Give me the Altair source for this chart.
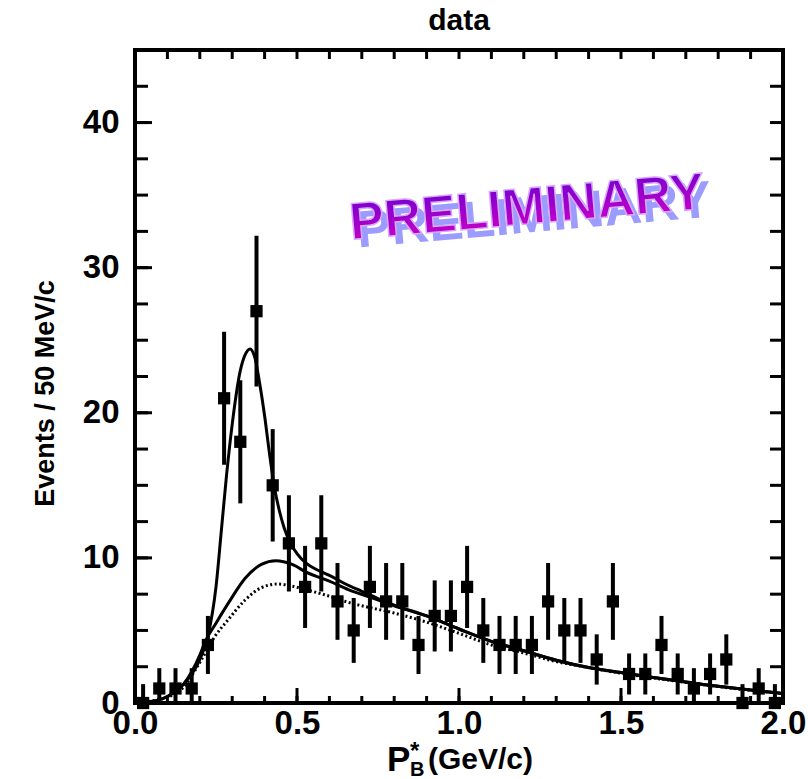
import altair as alt
import pandas as pd
import math

# ---------------- data ----------------
bin_centers = [0.025 + 0.05 * i for i in range(40)]
counts = [0, 1, 1, 1, 4, 21, 18, 27, 15, 11,
          8, 11, 7, 5, 8, 7, 7, 4, 6, 6,
          8, 5, 4, 4, 4, 7, 5, 5, 3, 7,
          2, 2, 4, 2, 1, 2, 3, 0, 1, 0]

# total fit curve (signal + background)
tot_x = [0.0, 0.05, 0.1, 0.15, 0.2, 0.225, 0.25, 0.267, 0.283, 0.3, 0.325, 0.34,
         0.355, 0.37, 0.385, 0.4, 0.415, 0.43, 0.445, 0.46, 0.48, 0.5, 0.53, 0.56,
         0.6, 0.65, 0.7, 0.75, 0.8, 0.9, 1.0, 1.1, 1.2, 1.3, 1.4, 1.5, 1.6, 1.7,
         1.8, 1.9, 2.0]
tot_y = [0.0, 0.1, 0.45, 1.3, 3.0, 4.6, 8.0, 12.0, 15.8, 19.2, 22.9, 24.0,
         24.4, 23.8, 22.0, 19.8, 17.2, 14.9, 13.3, 12.1, 11.0, 10.3, 9.6, 9.2,
         8.8, 8.2, 7.7, 7.2, 6.75, 6.0, 5.1, 4.25, 3.6, 2.95, 2.45, 2.1, 1.75, 1.45,
         1.15, 0.9, 0.65]

# background (solid)
bg_x = [0.0, 0.05, 0.1, 0.15, 0.2, 0.216, 0.25, 0.29, 0.34, 0.39, 0.435, 0.485,
        0.53, 0.6, 0.66, 0.725, 0.8, 0.9, 1.0, 1.1, 1.2, 1.3, 1.4, 1.5, 1.6, 1.7,
        1.8, 1.9, 2.0]
bg_y = [0.0, 0.1, 0.45, 1.3, 3.3, 4.2, 5.5, 6.95, 8.6, 9.55, 9.8, 9.55,
        9.0, 8.4, 7.8, 7.3, 6.7, 6.0, 5.1, 4.25, 3.6, 2.95, 2.45, 2.1, 1.75, 1.45,
        1.15, 0.9, 0.65]

# dotted component
dot_x = [0.0, 0.1, 0.15, 0.2, 0.247, 0.288, 0.34, 0.39, 0.44, 0.485, 0.53, 0.6,
         0.664, 0.7, 0.8, 0.91, 1.0, 1.1, 1.2, 1.3, 1.36, 1.5, 1.6, 1.7, 1.8, 1.9, 2.0]
dot_y = [0.0, 0.4, 1.1, 2.8, 4.6, 5.75, 7.1, 7.95, 8.2, 8.05, 7.8, 7.36,
         6.9, 6.7, 6.2, 5.5, 4.8, 4.0, 3.45, 2.85, 2.6, 2.05, 1.72, 1.42, 1.13, 0.88, 0.64]

x_labels = [0.0, 0.5, 1.0, 1.5, 2.0]
y_labels = [0, 10, 20, 30, 40]
x_minor = [i / 10 for i in range(21)]
y_minor = [i * 2.5 for i in range(19)]

# ---------------- tables ----------------
def err_hi(n):
    return n + (math.sqrt(n) if n > 1 else (1.3 if n == 0 else 1.4))

def err_lo(n):
    return max(n - math.sqrt(n), 0)

pts = pd.DataFrame({
    "x": bin_centers,
    "y": counts,
    "lo": [err_lo(n) for n in counts],
    "hi": [err_hi(n) for n in counts],
})
tot = pd.DataFrame({"x": tot_x, "y": tot_y})
bg = pd.DataFrame({"x": bg_x, "y": bg_y})
dot = pd.DataFrame({"x": dot_x, "y": dot_y})
xmaj = pd.DataFrame({"x": [v for v in x_minor if abs(v * 2 - round(v * 2)) < 1e-9]})
xmin = pd.DataFrame({"x": x_minor})
ymaj = pd.DataFrame({"y": y_labels})
ymin = pd.DataFrame({"y": y_minor})

W, H = 648, 653
FONT = "Liberation Sans Narrow, Liberation Sans, Arial, sans-serif"

xs = alt.Scale(domain=[0, 2], nice=False, zero=False)
ys = alt.Scale(domain=[0, 45], nice=False, zero=False)

x_axis = alt.Axis(values=x_labels, format=".1f", ticks=False, domain=False,
                  grid=False, labelFont=FONT, labelFontSize=33,
                  labelFontWeight="bold", labelColor="black", labelPadding=4,
                  labelFlush=False, labelOverlap=False, title=None)
y_axis = alt.Axis(values=y_labels, ticks=False, domain=False, grid=False,
                  labelFont=FONT, labelFontSize=33, labelFontWeight="bold",
                  labelColor="black", labelPadding=16, labelFlush=False,
                  labelOverlap=False,
                  title="Events / 50 MeV/c", titleFont=FONT, titleFontSize=27,
                  titleFontWeight="bold", titleColor="black",
                  titleX=-90, titleY=343, titleAngle=270,
                  titleBaseline="middle", titleAlign="center")

base_x = alt.X("x:Q", scale=xs)
base_y = alt.Y("y:Q", scale=ys)

errbars = alt.Chart(pts).mark_rule(color="black", strokeWidth=4).encode(
    x=alt.X("x:Q", scale=xs, axis=x_axis),
    y=alt.Y("lo:Q", scale=ys, axis=y_axis), y2="hi:Q")
squares = alt.Chart(pts).mark_square(color="black", size=150, opacity=1).encode(
    x=base_x, y=base_y)

tot_line = alt.Chart(tot).mark_line(color="black", strokeWidth=3,
                                    interpolate="monotone").encode(x=base_x, y=base_y)
bg_line = alt.Chart(bg).mark_line(color="black", strokeWidth=3,
                                  interpolate="monotone").encode(x=base_x, y=base_y)
dot_line = alt.Chart(dot).mark_line(color="black", strokeWidth=3, strokeDash=[2, 2.5],
                                    interpolate="monotone").encode(x=base_x, y=base_y)

one = pd.DataFrame({"k": [0]})

# frame
frame = alt.Chart(one).mark_rect(fill=None, stroke="black", strokeWidth=4).encode(
    x=alt.value(0), x2=alt.value(W), y=alt.value(0), y2=alt.value(H))

# inward ticks
t_bot_maj = alt.Chart(xmaj).mark_rule(color="black", strokeWidth=3).encode(
    x=base_x, y=alt.value(H), y2=alt.value(H - 15))
t_bot_min = alt.Chart(xmin).mark_rule(color="black", strokeWidth=3).encode(
    x=base_x, y=alt.value(H), y2=alt.value(H - 7))
t_top = alt.Chart(xmin).mark_rule(color="black", strokeWidth=3).encode(
    x=base_x, y=alt.value(0), y2=alt.value(9))
t_left = alt.Chart(ymin).mark_rule(color="black", strokeWidth=3).encode(
    y=base_y, x=alt.value(0), x2=alt.value(13))
t_left_maj = alt.Chart(ymaj).mark_rule(color="black", strokeWidth=3).encode(
    y=base_y, x=alt.value(0), x2=alt.value(17))
t_right = alt.Chart(ymin).mark_rule(color="black", strokeWidth=3).encode(
    y=base_y, x=alt.value(W), x2=alt.value(W - 13))

# x-axis title with sub/superscript
xt_P = alt.Chart(one).mark_text(text="P", font=FONT, fontSize=35, fontWeight="bold",
                                align="left", baseline="alphabetic", color="black").encode(
    x=alt.value(252), y=alt.value(721))
xt_star = alt.Chart(one).mark_text(text="*", font=FONT, fontSize=24, fontWeight="bold",
                                   align="left", baseline="alphabetic", color="black").encode(
    x=alt.value(275), y=alt.value(709))
xt_B = alt.Chart(one).mark_text(text="B", font=FONT, fontSize=20, fontWeight="bold",
                                align="left", baseline="alphabetic", color="black").encode(
    x=alt.value(275), y=alt.value(726))
xt_rest = alt.Chart(one).mark_text(text="(GeV/c)", font=FONT, fontSize=30, fontWeight="bold",
                                   align="left", baseline="alphabetic", color="black").encode(
    x=alt.value(293), y=alt.value(719))

# PRELIMINARY stamp
grad = alt.LinearGradient(gradient="linear", x1=0, y1=0, x2=0, y2=1,
                          stops=[alt.GradientStop(offset=0, color="#6a00d0"),
                                 alt.GradientStop(offset=1, color="#d400c4")])
stamp_shadow = alt.Chart(one).mark_text(text="PRELIMINARY", font=FONT, fontSize=52,
                                        fontWeight="bold", align="center",
                                        baseline="middle", angle=355,
                                        fill="#9c9cff").encode(
    x=alt.value(399), y=alt.value(166))
stamp = alt.Chart(one).mark_text(text="PRELIMINARY", font=FONT, fontSize=52,
                                 fontWeight="bold", align="center", baseline="middle",
                                 angle=355, fill=grad, stroke="#d8a8ff",
                                 strokeWidth=1.5).encode(
    x=alt.value(392), y=alt.value(158))

chart = alt.layer(
    stamp_shadow, stamp,
    dot_line, bg_line, tot_line,
    errbars, squares,
    frame,
    t_bot_maj, t_bot_min, t_top, t_left, t_left_maj, t_right,
    xt_P, xt_star, xt_B, xt_rest,
).properties(
    width=W, height=H,
    title=alt.TitleParams("data", font=FONT, fontSize=30, fontWeight="bold",
                          color="black", anchor="middle", offset=12),
    autosize=alt.AutoSizeParams(type="none"),
    padding={"left": 135, "top": 50, "right": 25, "bottom": 76},
).configure_view(
    stroke=None, fill="white"
).configure(background="white")

chart.save("out.html", embed_options={"renderer": "svg", "actions": False})
